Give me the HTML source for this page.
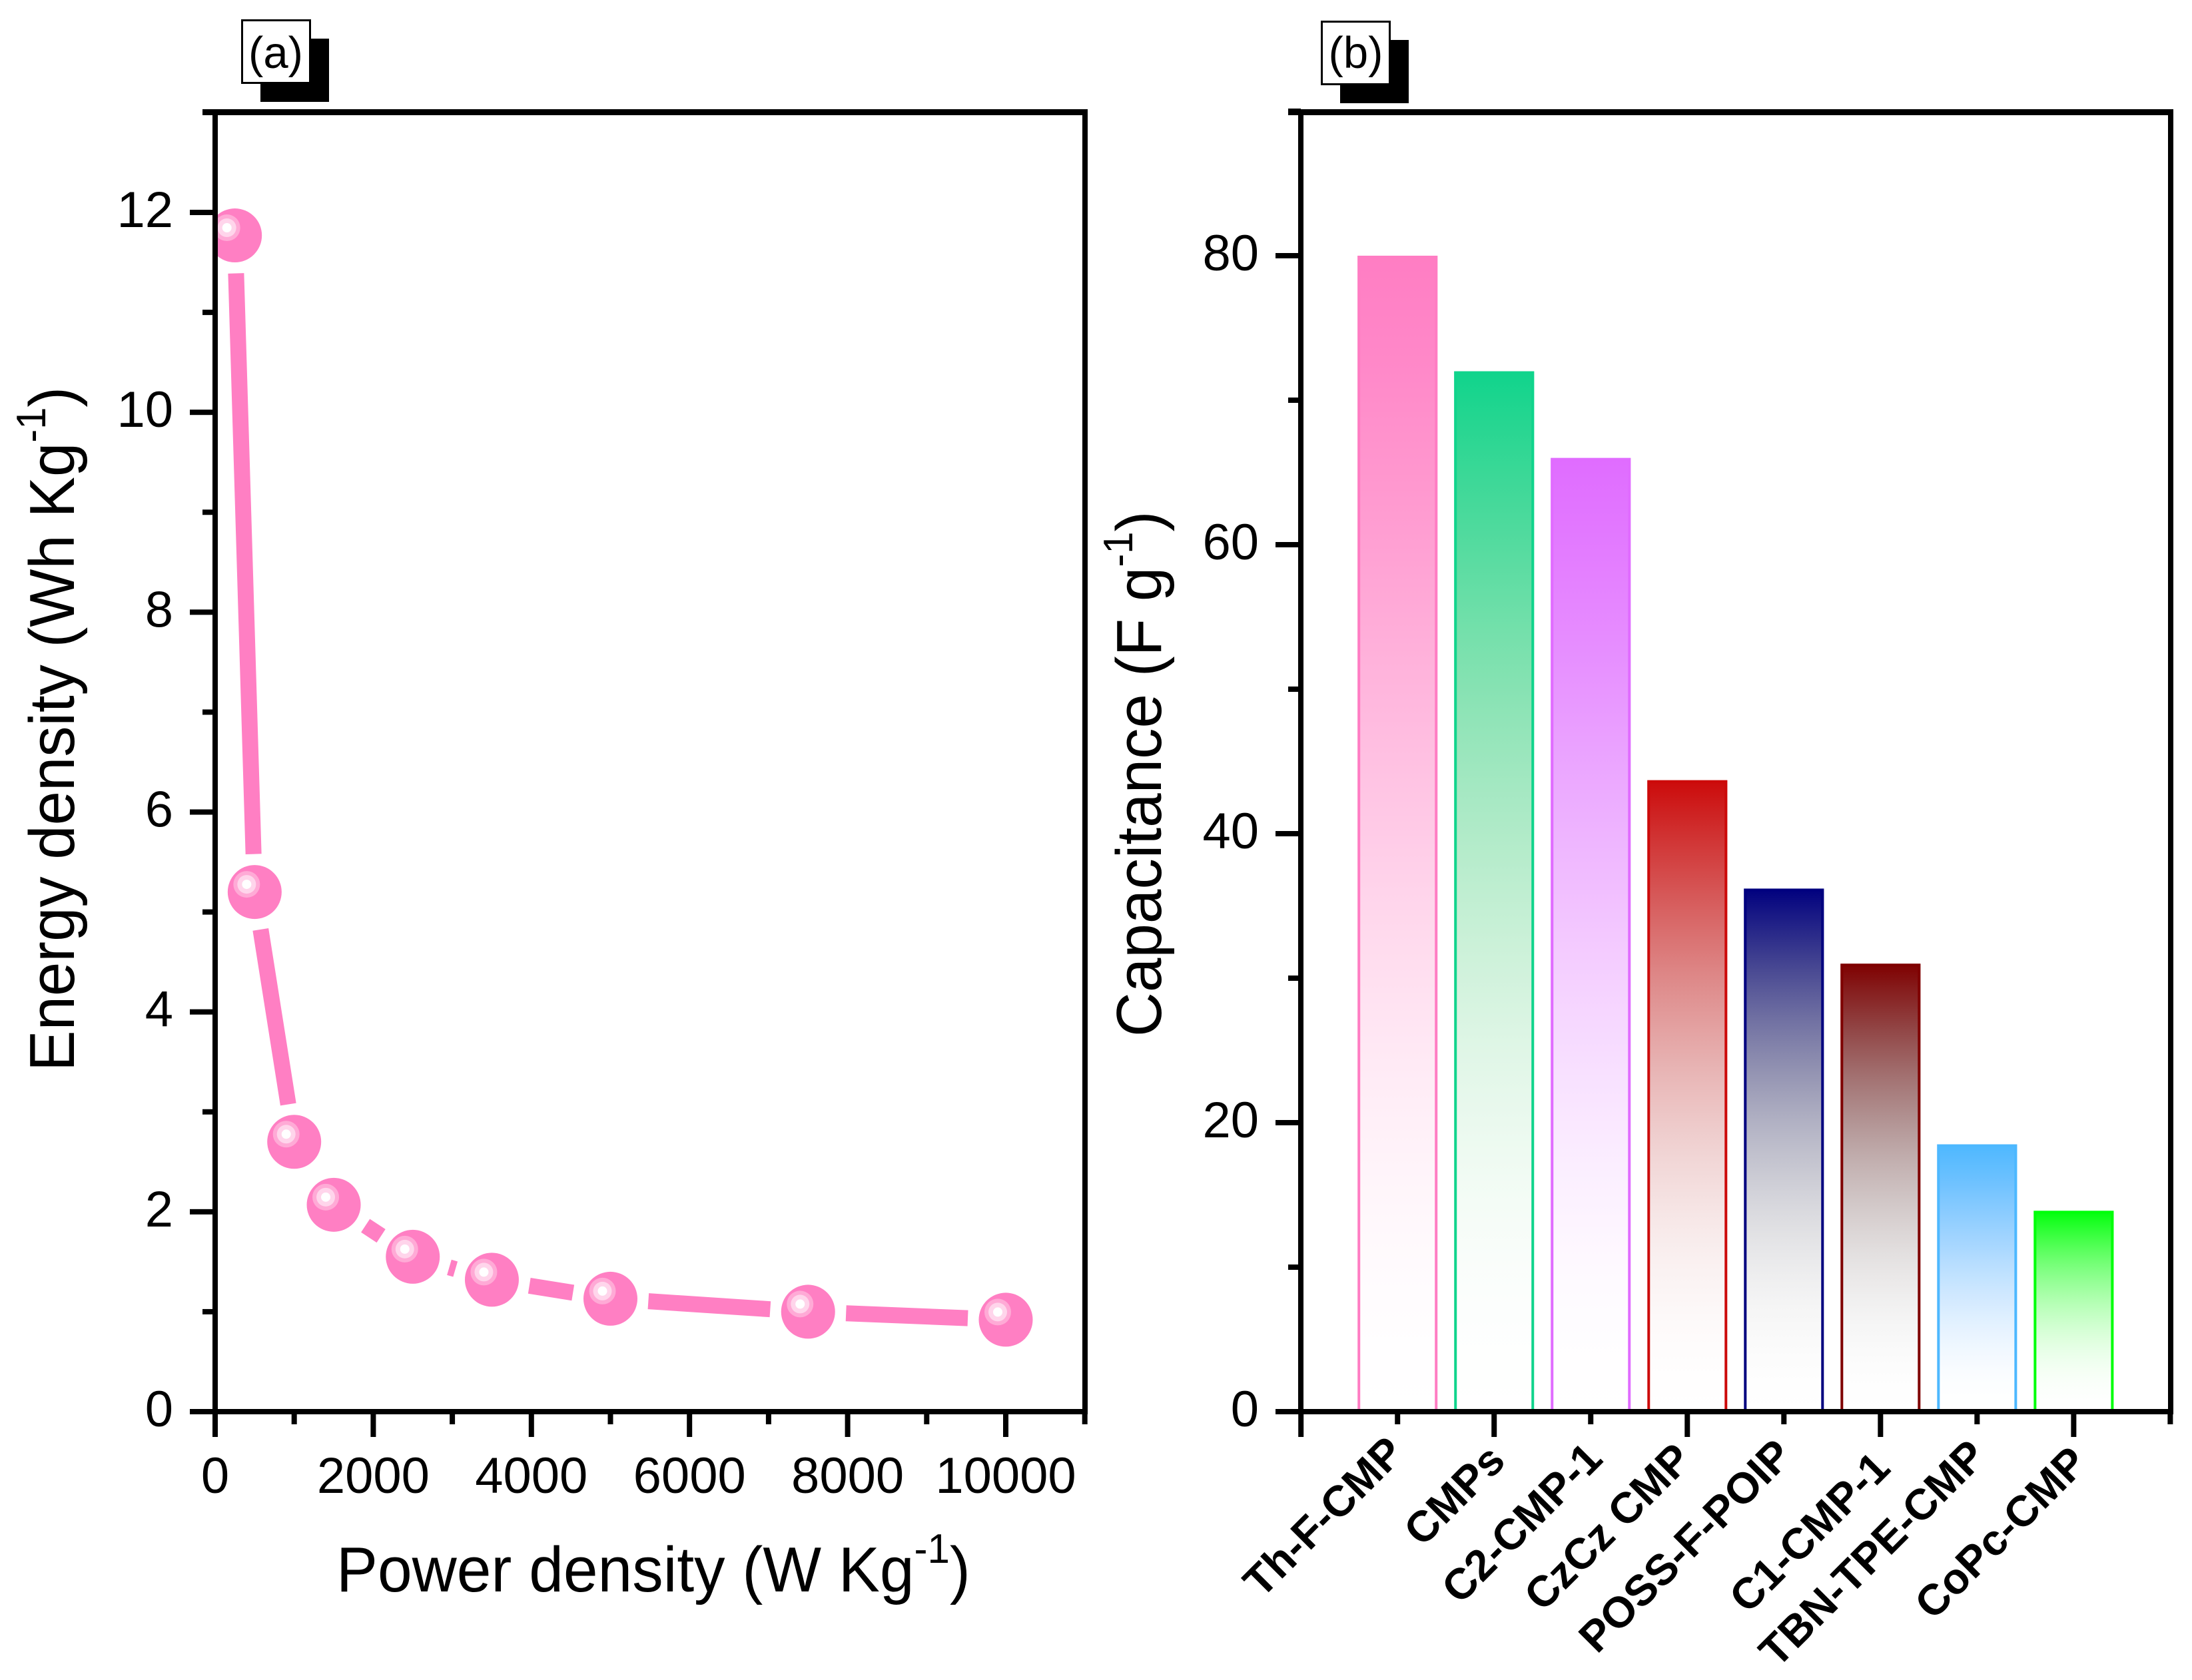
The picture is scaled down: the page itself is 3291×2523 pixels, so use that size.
<!DOCTYPE html>
<html lang="en">
<head>
<meta charset="utf-8">
<title>Energy density and capacitance charts</title>
<style>
  html, body { margin: 0; padding: 0; background: #fff; }
  svg { display: block; font-family: "Liberation Sans", sans-serif; }
</style>
</head>
<body>
<svg id="chart" xmlns="http://www.w3.org/2000/svg" width="3291" height="2523" viewBox="0 0 3291 2523">
  <rect x="0" y="0" width="3291" height="2523" fill="#ffffff"/>
  <defs id="defs"><clipPath id="plot-a-clip"><rect x="323" y="168" width="1306" height="1952"/></clipPath></defs>

  <g id="panel-a">
    <rect x="391" y="58" width="103" height="95" fill="#000"/>
    <rect x="363.5" y="30.5" width="102" height="94" fill="#fff" stroke="#000" stroke-width="3"/>
    <text x="414" y="102" font-size="67" text-anchor="middle">(a)</text>
    <text transform="translate(505,2390) scale(0.968,1)" font-size="96">Power density (W Kg<tspan font-size="62" dy="-43">-1</tspan><tspan dy="43">)</tspan></text>
    <text transform="translate(111,1609) rotate(-90) scale(0.962,1)" font-size="96">Energy density (Wh Kg<tspan font-size="62" dy="-43">-1</tspan><tspan dy="43">)</tspan></text>
  </g>

  <g id="panel-b">
    <rect x="2012" y="60" width="103" height="95" fill="#000"/>
    <rect x="1984.5" y="32.5" width="102" height="94" fill="#fff" stroke="#000" stroke-width="3"/>
    <text x="2035.5" y="102" font-size="67" text-anchor="middle">(b)</text>
    <text transform="translate(1743,1557) rotate(-90) scale(0.965,1)" font-size="96">Capacitance (F g<tspan font-size="62" dy="-43">-1</tspan><tspan dy="43">)</tspan></text>
    <g font-size="65" font-weight="bold" text-anchor="end">
      <text transform="translate(2111,2185) rotate(-45)">Th-F-CMP</text>
      <text transform="translate(2263,2197) rotate(-45)">CMPs</text>
      <text transform="translate(2409,2194) rotate(-45)">C2-CMP-1</text>
      <text transform="translate(2543,2195) rotate(-45)">CzCz CMP</text>
      <text transform="translate(2694,2189) rotate(-45)">POSS-F-POIP</text>
      <text transform="translate(2841,2208) rotate(-45)">C1-CMP-1</text>
      <text transform="translate(2985,2190) rotate(-45)">TBN-TPE-CMP</text>
      <text transform="translate(3137,2200) rotate(-45)">CoPc-CMP</text>
    </g>
  </g>
</svg>

<script>
// ---- Panel (a) data ----
const powerDensity = [250, 500, 1000, 1500, 2500, 3500, 5000, 7500, 10000];
const energyDensity = [11.77, 5.2, 2.7, 2.07, 1.55, 1.32, 1.13, 1.0, 0.92];
const xTicksA = [0, 2000, 4000, 6000, 8000, 10000];
const xMinorTicksA = [1000, 3000, 5000, 7000, 9000, 11000];
const yTicksA = [0, 2, 4, 6, 8, 10, 12];
const yMinorTicksA = [1, 3, 5, 7, 9, 11, 13];

// ---- Panel (b) data ----
const categories = ["Th-F-CMP", "CMPs", "C2-CMP-1", "CzCz CMP", "POSS-F-POIP", "C1-CMP-1", "TBN-TPE-CMP", "CoPc-CMP"];
const capacitance = [80, 72, 66, 43.7, 36.2, 31, 18.5, 13.9];
const barColors = [[255, 125, 195], [16, 212, 140], [224, 108, 255], [204, 10, 10], [0, 0, 127], [127, 0, 0], [77, 184, 255], [0, 255, 10]];
const yTicksB = [0, 20, 40, 60, 80];
const yMinorTicksB = [10, 30, 50, 70, 90];

const NS = "http://www.w3.org/2000/svg";
const svg = document.getElementById("chart");
const defs = document.getElementById("defs");
const panelA = document.getElementById("panel-a");
const panelB = document.getElementById("panel-b");

function make(tag, attrs, parent) {
  const node = document.createElementNS(NS, tag);
  for (const k in attrs) node.setAttribute(k, attrs[k]);
  parent.appendChild(node);
  return node;
}

// axis functions
const xA = v => 323 + v * 0.1187;
const yA = v => 2120 - v * 150.08;
const xB = i => 1953.2 + i * 145.02;
const yB = v => 2120 - v * 21.7;

const PINK = "#ff7fc3";

// ---- Panel (a) line with gaps around the symbols ----
const GAP = 57;
const points = make("g", { "clip-path": "url(#plot-a-clip)" }, panelA);


for (let i = 0; i + 1 < powerDensity.length; i++) {
  const x1 = xA(powerDensity[i]), y1 = yA(energyDensity[i]);
  const x2 = xA(powerDensity[i + 1]), y2 = yA(energyDensity[i + 1]);
  const len = Math.hypot(x2 - x1, y2 - y1);
  if (len <= 2 * GAP) continue;
  const ux = (x2 - x1) / len, uy = (y2 - y1) / len;
  const seg = make("line", {
    x1: x1 + ux * GAP, y1: y1 + uy * GAP,
    x2: x2 - ux * GAP, y2: y2 - uy * GAP,
    stroke: PINK, "stroke-width": 24
  }, points);
  
  
}
for (let i = 0; i < powerDensity.length; i++) {
  const cx = xA(powerDensity[i]), cy = yA(energyDensity[i]);
  const marker = make("g", {}, points);
  
  
  make("circle", { cx: cx, cy: cy, r: 40.5, fill: PINK }, marker);
  make("circle", { cx: cx - 12, cy: cy - 11.5, r: 20, fill: "#ffaad6" }, marker);
  make("circle", { cx: cx - 12, cy: cy - 11.5, r: 14, fill: "#ffd5eb" }, marker);
  make("circle", { cx: cx - 12, cy: cy - 11.5, r: 7, fill: "#ffffff" }, marker);
}

// ---- Panel (b) bars ----
const GRAD_STEPS = 20;
function fadeChannel(c, u) {
  // darker channels rise toward white a little faster than bright ones,
  // but all channels converge near the bottom of the bar
  const low = 1 - Math.pow(1 - u, 2);
  const smooth = 3 * u * u - 2 * u * u * u;
  const high = 0.4 * low + 0.6 * smooth;
  const k = Math.min(1, c / 128);
  const t = low * (1 - k) + high * k;
  return Math.round(c + (255 - c) * t);
}
capacitance.forEach((value, i) => {
  const rgb = barColors[i];
  const cssColor = "rgb(" + rgb.join(",") + ")";
  const gradient = make("linearGradient", { id: "bar-grad-" + i, x1: 0, y1: 0, x2: 0, y2: 1 }, defs);
  for (let s = 0; s <= GRAD_STEPS; s++) {
    const u = s / GRAD_STEPS;
    make("stop", {
      offset: u,
      "stop-color": "rgb(" + rgb.map(c => fadeChannel(c, u)).join(",") + ")"
    }, gradient);
  }
  const cx = xB(i + 1), top = yB(value), bottom = yB(0);
  const fill = make("rect", { x: cx - 60, y: top, width: 120, height: bottom - top, fill: "url(#bar-grad-" + i + ")" }, panelB);
  
  
  const outline = make("path", {
    d: "M" + (cx - 58) + " " + bottom + "V" + (top + 2) + "H" + (cx + 58) + "V" + bottom,
    fill: "none", stroke: cssColor, "stroke-width": 4
  }, panelB);
  
  
});

// ---- Axes ----
function hTick(parent, x, y, len) {
  const t = make("rect", { x: x - len, y: y - 4, width: len, height: 8, fill: "#000" }, parent);
  
  
}
function vTick(parent, x, y, len) {
  const t = make("rect", { x: x - 4, y: y, width: 8, height: len, fill: "#000" }, parent);
  
  
}
function yLabel(parent, x, y, str) {
  const t = make("text", { x: x, y: y + 22, "font-size": 76, "text-anchor": "end" }, parent);
  t.textContent = str;
  
  
}
function xLabel(parent, x, y, str) {
  const t = make("text", { x: x, y: y, "font-size": 76, "text-anchor": "middle" }, parent);
  t.textContent = str;
  
  
}

// panel a axes
const axesA = make("g", {}, panelA);


make("rect", { x: 319, y: 164, width: 8, height: 1960, fill: "#000" }, axesA);
make("rect", { x: 1625, y: 164, width: 8, height: 1960, fill: "#000" }, axesA);
make("rect", { x: 304, y: 164, width: 1329, height: 9, fill: "#000" }, axesA);
make("rect", { x: 285, y: 2116, width: 1348, height: 8, fill: "#000" }, axesA);
xTicksA.forEach(v => { vTick(axesA, xA(v), 2120, 38); xLabel(axesA, xA(v), 2242, String(v)); });
xMinorTicksA.forEach(v => { vTick(axesA, xA(v), 2120, 19); });
yTicksA.forEach(v => { hTick(axesA, 323, yA(v), 38); yLabel(axesA, 260, yA(v), String(v)); });
yMinorTicksA.forEach(v => { hTick(axesA, 323, yA(v), 19); });

// panel b axes
const axesB = make("g", {}, panelB);


make("rect", { x: 1949, y: 164, width: 8, height: 1960, fill: "#000" }, axesB);
make("rect", { x: 3255, y: 164, width: 8, height: 1960, fill: "#000" }, axesB);
make("rect", { x: 1934, y: 164, width: 1329, height: 9, fill: "#000" }, axesB);
make("rect", { x: 1915, y: 2116, width: 1348, height: 8, fill: "#000" }, axesB);
[0, 2, 4, 6, 8].forEach(i => { vTick(axesB, xB(i), 2120, 38); });
[1, 3, 5, 7, 9].forEach(i => { vTick(axesB, xB(i), 2120, 19); });
yTicksB.forEach(v => { hTick(axesB, 1953, yB(v), 38); yLabel(axesB, 1890, yB(v), String(v)); });
yMinorTicksB.forEach(v => { hTick(axesB, 1953, yB(v), 19); });
</script>
</body>
</html>
